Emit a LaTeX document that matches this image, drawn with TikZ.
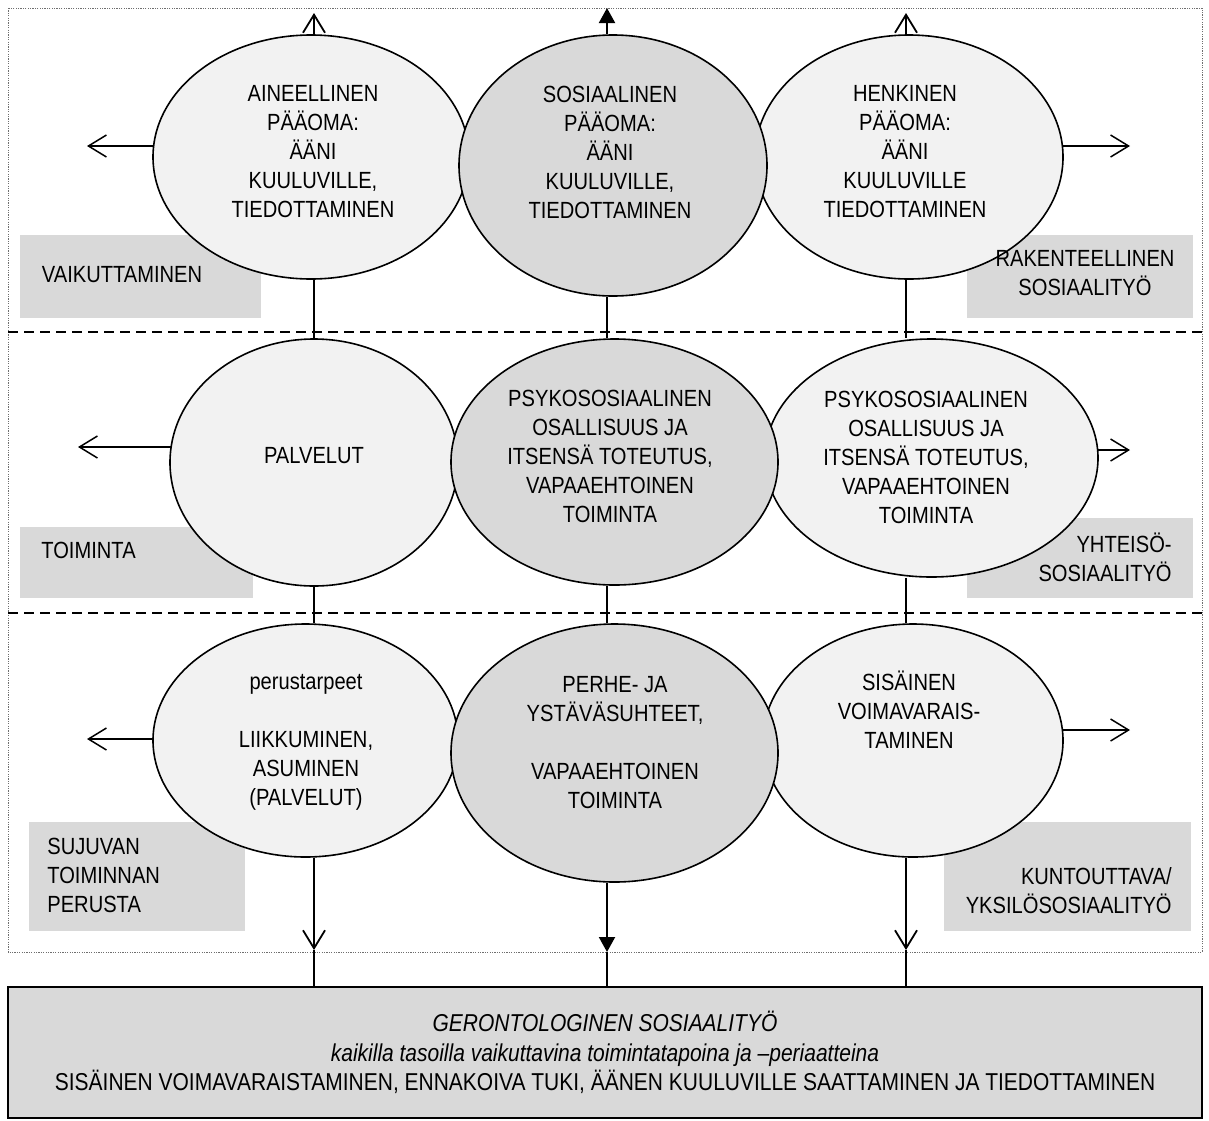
\documentclass[tikz,border=0pt]{standalone}
\usepackage{fontspec}
\setmainfont{Liberation Sans}[FakeStretch=0.86]
\usetikzlibrary{shapes.geometric,arrows.meta}
\definecolor{lightfill}{HTML}{F2F2F2}
\definecolor{darkfill}{HTML}{D9D9D9}
\definecolor{boxfill}{HTML}{D9D9D9}
\definecolor{framegray}{HTML}{6F6F6F}
\pgfdeclarelayer{bg}
\pgfdeclarelayer{fg}
\pgfsetlayers{bg,main,fg}
\begin{document}
\begin{tikzpicture}[x=0.5pt,y=-0.5pt,
  txt/.style={font=\fontsize{11.7pt}{14.5pt}\selectfont, align=center, inner sep=0pt},
  ellL/.style={ellipse, draw, line width=0.8pt, fill=lightfill, inner sep=0pt},
  ellD/.style={ellL, fill=darkfill},
  col/.style={line width=1pt},
  openhead/.style={-{Straight Barb[length=9pt,width=11pt,line width=0.75pt]}},
  vopen/.style={col, -{Straight Barb[length=9pt,width=11pt,line width=0.9pt]}},
  harr/.style={line width=0.75pt, openhead},
  farr/.style={col, -{Triangle[length=7.5pt,width=8pt]}},
  ln/.style={line width=0.6pt},
  sepline/.style={line width=0.9pt, dash pattern=on 5pt off 3pt},
  framebox/.style={draw=framegray, line width=0.5pt, dash pattern=on 0.6pt off 0.6pt},
  tagbox/.style={fill=boxfill},
  bottombox/.style={rectangle, draw, line width=0.75pt, fill=boxfill, minimum width=597pt, minimum height=65.5pt, txt, font=\fontsize{12.2pt}{14.7pt}\selectfont}
]
\useasboundingbox (0,0) rectangle (1209,1120);

% ellipses (light first, dark on top)
\node[ellL, minimum width=158pt, minimum height=122pt] (e11) at (311,157) {};
\node[ellL, minimum width=154pt, minimum height=122pt] (e13) at (909,157) {};
\node[ellL, minimum width=144pt, minimum height=123.5pt] (e21) at (314,462.5) {};
\node[ellL, minimum width=166.5pt, minimum height=119pt] (e23) at (931.5,458) {};
\node[ellL, minimum width=152.5pt, minimum height=116.5pt] (e31) at (305.5,740.5) {};
\node[ellL, minimum width=150pt, minimum height=116.5pt] (e33) at (913,740.5) {};
\node[ellD, minimum width=154pt, minimum height=130.5pt] (e12) at (613,165.5) {};
\node[ellD, minimum width=163.5pt, minimum height=123pt] (e22) at (614.5,462) {};
\node[ellD, minimum width=163.5pt, minimum height=129pt] (e32) at (614.5,753) {};

% bottom box
\node[bottombox] (bb) at (605,1052.5) {\textit{GERONTOLOGINEN SOSIAALITYÖ}\\\textit{kaikilla tasoilla vaikuttavina toimintatapoina ja –periaatteina}\\SISÄINEN VOIMAVARAISTAMINEN, ENNAKOIVA TUKI, ÄÄNEN KUULUVILLE SAATTAMINEN JA TIEDOTTAMINEN};

% coordinates
\coordinate (c1t) at (314,13);
\coordinate (c2t) at (607,8);
\coordinate (c3t) at (906,13);
\coordinate (c1b) at (314,950);
\coordinate (c2b) at (607,952);
\coordinate (c3b) at (906,950);
\coordinate (l1) at (87,146);
\coordinate (r1) at (1130,146);
\coordinate (l2) at (78,447);
\coordinate (r2) at (1130,450);
\coordinate (l3) at (87,739);
\coordinate (r3) at (1130,730);

\begin{pgfonlayer}{bg}
  \draw[framebox] (8,8) rectangle (1202,952);
  \draw[sepline] (8,332) -- (1202,332);
  \draw[sepline] (8,613) -- (1202,613);
  % tag boxes
  \fill[tagbox] (20,235) rectangle (261,318);
  \fill[tagbox] (967,235) rectangle (1193,318);
  \fill[tagbox] (20,527) rectangle (253,598);
  \fill[tagbox] (967,518) rectangle (1193,598);
  \fill[tagbox] (29,822) rectangle (245,931);
  \fill[tagbox] (944,822) rectangle (1191,931);
  % columns
  \draw[vopen] (e11.north -| c1t) -- (c1t);
  \draw[farr] (e12.north -| c2t) -- (c2t);
  \draw[vopen] (e13.north -| c3t) -- (c3t);
  \draw[col] (e11.south -| c1t) -- (e21.north -| c1t);
  \draw[col] (e12.south -| c2t) -- (e22.north -| c2t);
  \draw[col] (e13.south -| c3t) -- (e23.north -| c3t);
  \draw[col] (e21.south -| c1t) -- (e31.north -| c1t);
  \draw[col] (e22.south -| c2t) -- (e32.north -| c2t);
  \draw[col] (e23.south -| c3t) -- (e33.north -| c3t);
  \draw[vopen] (e31.south -| c1b) -- (c1b);
  \draw[farr] (e32.south -| c2b) -- (c2b);
  \draw[vopen] (e33.south -| c3b) -- (c3b);
  \draw[ln] (c1b) -- (bb.north -| c1b);
  \draw[ln] (c2b) -- (bb.north -| c2b);
  \draw[ln] (c3b) -- (bb.north -| c3b);
  % side arrows
  \draw[harr] (e11.center |- l1) -- (l1);
  \draw[harr] (e13.center |- r1) -- (r1);
  \draw[harr] (e21.center |- l2) -- (l2);
  \draw[harr] (e23.center |- r2) -- (r2);
  \draw[harr] (e31.center |- l3) -- (l3);
  \draw[harr] (e33.center |- r3) -- (r3);
\end{pgfonlayer}

\begin{pgfonlayer}{fg}
  \node[txt] (t11) at (313,151.5) {AINEELLINEN\\PÄÄOMA:\\ÄÄNI\\KUULUVILLE,\\TIEDOTTAMINEN};
  \node[txt] (t12) at (610,152.5) {SOSIAALINEN\\PÄÄOMA:\\ÄÄNI\\KUULUVILLE,\\TIEDOTTAMINEN};
  \node[txt] (t13) at (905,151.5) {HENKINEN\\PÄÄOMA:\\ÄÄNI\\KUULUVILLE\\TIEDOTTAMINEN};
  \node[txt] (t21) at (314,456) {PALVELUT};
  \node[txt] (t22) at (610,456) {PSYKOSOSIAALINEN\\OSALLISUUS JA\\ITSENSÄ TOTEUTUS,\\VAPAAEHTOINEN\\TOIMINTA};
  \node[txt] (t23) at (926,457) {PSYKOSOSIAALINEN\\OSALLISUUS JA\\ITSENSÄ TOTEUTUS,\\VAPAAEHTOINEN\\TOIMINTA};
  \node[txt] (t31) at (306,742.5) {perustarpeet\\[14.5pt]LIIKKUMINEN,\\ASUMINEN\\(PALVELUT)};
  \node[txt] (t32) at (615,742.5) {PERHE- JA\\YSTÄVÄSUHTEET,\\[14.5pt]VAPAAEHTOINEN\\TOIMINTA};
  \node[txt] (t33) at (909,710) {SISÄINEN\\VOIMAVARAIS-\\TAMINEN};
  % tag labels
  \node[txt, anchor=west] (g1) at (41.5,275) {VAIKUTTAMINEN};
  \node[txt] (g2) at (1085,273) {RAKENTEELLINEN\\SOSIAALITYÖ};
  \node[txt, anchor=west] (g3) at (41,550) {TOIMINTA};
  \node[txt, align=right, anchor=east] (g4) at (1172,557.5) {YHTEISÖ-\\SOSIAALITYÖ};
  \node[txt, align=left, anchor=west] (g5) at (47,875) {SUJUVAN\\TOIMINNAN\\PERUSTA};
  \node[txt, align=right, anchor=east] (g6) at (1172,891) {KUNTOUTTAVA/\\YKSILÖSOSIAALITYÖ};
\end{pgfonlayer}
\end{tikzpicture}
\end{document}
